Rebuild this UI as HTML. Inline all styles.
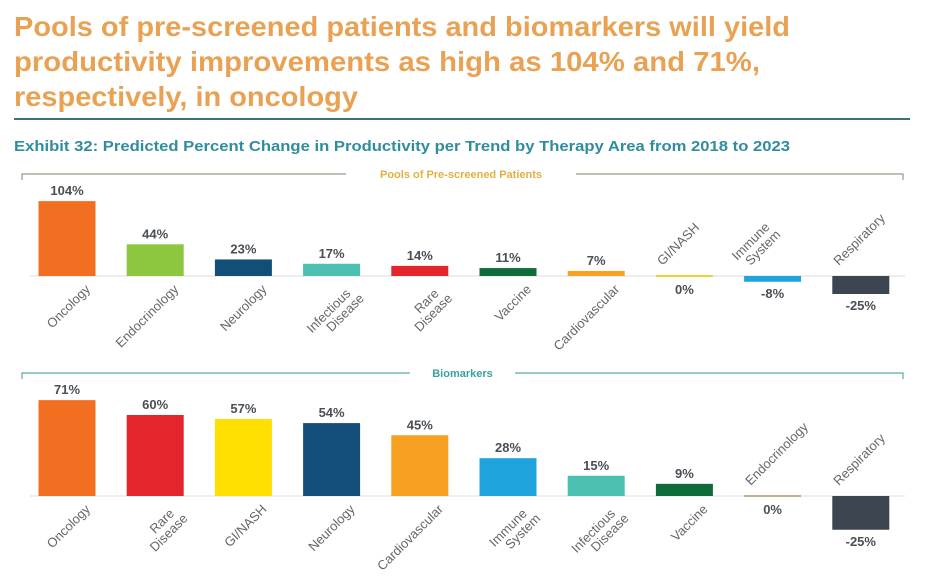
<!DOCTYPE html>
<html><head><meta charset="utf-8"><style>
html,body{margin:0;padding:0;background:#fff;}
svg{display:block;font-family:"Liberation Sans",sans-serif;}
</style></head><body>
<svg id="chart" width="926" height="587" viewBox="0 0 926 587">
<g fill="#E9A254" font-size="28" font-weight="bold">
<text x="14" y="36" textLength="776" lengthAdjust="spacingAndGlyphs">Pools of pre-screened patients and biomarkers will yield</text>
<text x="14" y="71" textLength="746" lengthAdjust="spacingAndGlyphs">productivity improvements as high as 104% and 71%,</text>
<text x="14" y="106" textLength="344" lengthAdjust="spacingAndGlyphs">respectively, in oncology</text>
</g>
<line x1="14" y1="119" x2="910" y2="119" stroke="#3e6f7e" stroke-width="2"/>
<text x="14" y="151" font-size="15" font-weight="bold" fill="#2f8d9c" textLength="776" lengthAdjust="spacingAndGlyphs">Exhibit 32: Predicted Percent Change in Productivity per Trend by Therapy Area from 2018 to 2023</text>
<g id="p1"></g>
<g id="p2"></g>
</svg>
<script>
const cats1 = ["Oncology","Endocrinology","Neurology","Infectious|Disease","Rare|Disease","Vaccine","Cardiovascular","GI/NASH","Immune|System","Respiratory"];
const vals1 = [104,44,23,17,14,11,7,0,-8,-25];
const labels1 = ["104%","44%","23%","17%","14%","11%","7%","0%","-8%","-25%"];
const colors1 = ["#F26F21","#8DC63F","#124E78","#4BBFB0","#E4262C","#0E6B3A","#F7A122","#F2D22E","#1FA3DC","#3C4550"];
const cats2 = ["Oncology","Rare|Disease","GI/NASH","Neurology","Cardiovascular","Immune|System","Infectious|Disease","Vaccine","Endocrinology","Respiratory"];
const vals2 = [71,60,57,54,45,28,15,9,0,-25];
const labels2 = ["71%","60%","57%","54%","45%","28%","15%","9%","0%","-25%"];
const colors2 = ["#F26F21","#E4262C","#FFE000","#124E78","#F7A122","#1FA3DC","#4BBFB0","#0E6B3A","#BDB08A","#3C4550"];

const NS="http://www.w3.org/2000/svg";
function mk(tag,attrs,parent){const e=document.createElementNS(NS,tag);for(const k in attrs)e.setAttribute(k,attrs[k]);parent.appendChild(e);return e;}

function panel(g, cats, vals, labels, colors, baseY, pxPer, bracketY, title, tcol, lcol, gapL, gapR, prefix){
  const xCenter = i => 67 + i*88.2;
  const yScale = v => baseY - v*pxPer;
  const br = mk('path',{d:`M22 ${bracketY+6} L22 ${bracketY} L${gapL} ${bracketY} M${gapR} ${bracketY} L903 ${bracketY} L903 ${bracketY+6}`,fill:'none',stroke:lcol,'stroke-width':1.2},g);
  
  
  const tt = mk('text',{x:(gapL+gapR)/2,y:bracketY+4,'text-anchor':'middle','font-size':11,'font-weight':'bold',fill:tcol},g);
  tt.textContent=title;
  
  
  const bl = mk('line',{x1:30,x2:905,y1:baseY,y2:baseY,stroke:'#ddd','stroke-width':1},g);
  
  
  cats.forEach((c,i)=>{
    const v=vals[i], cx=xCenter(i), w=57;
    const y0=yScale(Math.max(v,0)), y1=yScale(Math.min(v,0));
    const h=Math.max(y1-y0,2);
    const r=mk('rect',{x:cx-w/2,y:v===0?baseY-1:y0,width:w,height:h,fill:colors[i]},g);
    
    
    const lv=mk('text',{x:cx,y:v>0?y0-6:y1+(v===0?18:16),'text-anchor':'middle','font-size':13,'font-weight':'bold',fill:'#4a4f55'},g);
    lv.textContent=labels[i];
    
    
    const lines=c.split('|');
    const t=mk('text',{'font-size':13,fill:'#666'},g);
    let ax, ay, anchor;
    if(v>0){ax=cx+24; ay=baseY+14; anchor='end';}
    else {ax=cx-22; ay=baseY-10; anchor='start';}
    t.setAttribute('text-anchor',anchor);
    t.setAttribute('transform',`translate(${ax},${ay}) rotate(-45)`);
    lines.forEach((ln,k)=>{
      const ts=mk('tspan',{x:(lines.length>1? (k===0?-6:0):0),dy:k===0?(v>0?0:-(lines.length-1)*13):13},t);
      ts.textContent=ln;
    });
    
    
  });
}
panel(document.getElementById('p1'),cats1,vals1,labels1,colors1,276,0.72,174,'Pools of Pre-screened Patients','#E0B040','#9a9a88',346,576,'pools');
panel(document.getElementById('p2'),cats2,vals2,labels2,colors2,496,1.35,373,'Biomarkers','#3aa0a0','#5aaaa8',410,515,'biomarkers');
</script>
</body></html>
